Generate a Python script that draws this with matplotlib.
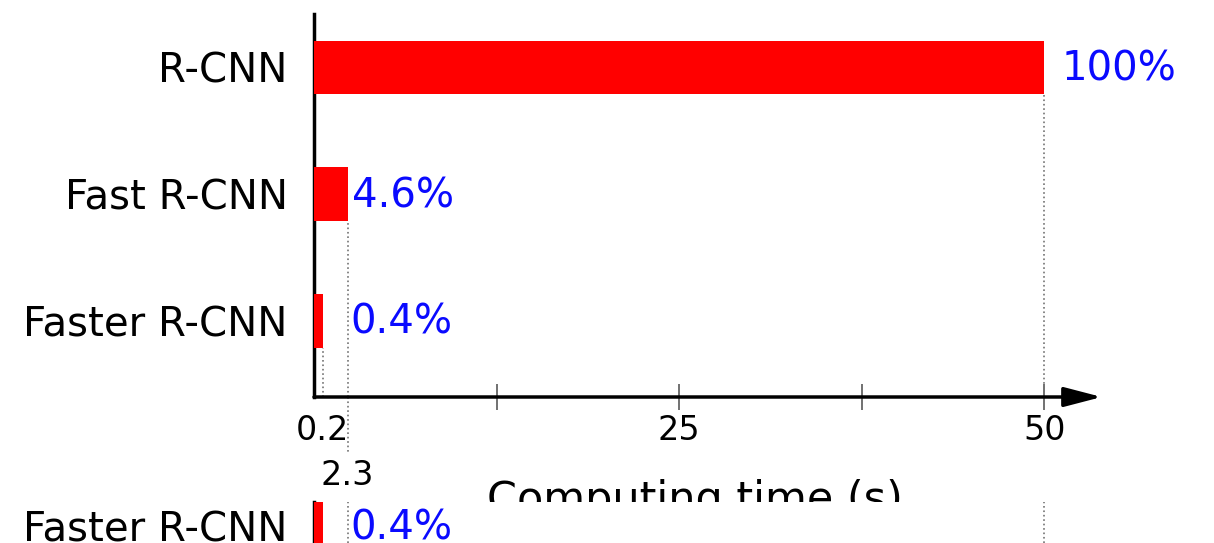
import matplotlib.pyplot as plt
import matplotlib.transforms as mtransforms

# values (bottom row is drawn a bit wider than 0.2 in the picture)
models = ['R-CNN', 'Fast R-CNN', 'Faster R-CNN']
bar_len = [50, 2.3, 0.6]
shares = ['100%', '4.6%', '0.4%']
rows = [2, 1, 0]
share_pad = [12, 3, 2]          # points right of the guide line
major_ticks = [12.5, 25, 37.5, 50]
major_labels = ['', '25', '', '50']
minor_ticks = [0.6, 2.3]
minor_labels = ['0.2', '2.3']

RED = '#ff0000'
BLUE = '#0a0aff'
W, H = 1214, 543
XMAX = 53.6
YLIM = (-0.6, 2.42)
BAR_H = 0.42
FS = 29

fig = plt.figure(figsize=(W / 100, H / 100), dpi=100)
left, right = 314 / W, 1097 / W
ax = fig.add_axes([left, (H - 397) / H, right - left, 383 / H])

ax.barh(rows, bar_len, height=BAR_H, color=RED, zorder=3)
ax.set_xlim(0, XMAX)
ax.set_ylim(*YLIM)
ax.set_yticks(rows)
ax.set_yticklabels(models, fontsize=FS)
ax.tick_params(axis='y', length=0, pad=19)

for sp in ['top', 'right', 'bottom']:
	ax.spines[sp].set_visible(False)
ax.spines['left'].set_linewidth(2.5)

# dotted guides from each bar down to the axis
for y, t in zip(rows, bar_len):
	ax.vlines(t, YLIM[0], y - BAR_H / 2, colors='0.45', linestyles=':', lw=1.2, zorder=2)
trans = mtransforms.blended_transform_factory(ax.transData, ax.transAxes)
ax.plot([bar_len[1], bar_len[1]], [0, -0.15], ':', color='0.45', lw=1.2,
	transform=trans, clip_on=False)

# percent labels
for y, t, s, p in zip(rows, bar_len, shares, share_pad):
	ax.annotate(s, (max(t, bar_len[1]), y), xytext=(p, -1.5), textcoords='offset points',
		va='center', ha='left', color=BLUE, fontsize=FS)

# x axis with arrow
ax.annotate('', xy=(1.006, 0), xytext=(0, 0), xycoords='axes fraction',
	arrowprops=dict(arrowstyle='-|>,head_length=1.15,head_width=0.3', lw=2.5,
		color='black', mutation_scale=20, shrinkA=0, shrinkB=0))
ax.set_xticks(major_ticks)
ax.set_xticklabels(major_labels, fontsize=24)
ax.tick_params(axis='x', which='major', direction='inout', length=19, width=1.2,
	color='0.35', pad=3)
ax.set_xticks(minor_ticks, minor=True)
ax.set_xticklabels(minor_labels, minor=True, fontsize=24)
ax.tick_params(axis='x', which='minor', length=0, pad=12.5)
lab = ax.xaxis.get_minorticklabels()[1]
lab.set_transform(lab.get_transform() + mtransforms.ScaledTranslation(0, -0.45, fig.dpi_scale_trans))

ax.set_xlabel('Computing time (s)', fontsize=31, va='top')
ax.xaxis.set_label_coords(0.487, -0.215)

# repeated strip of the bottom row, covering the axis title
ax2 = fig.add_axes([left, 0, right - left, 41 / H], zorder=5)
ax2.set_facecolor('white')
ax2.barh([rows[2]], [bar_len[2]], height=BAR_H, color=RED, zorder=3)
ax2.set_xlim(0, XMAX)
ax2.set_ylim(-0.134, 0.189)
ax2.set_yticks([rows[2]])
ax2.set_yticklabels([models[2]], fontsize=FS)
ax2.tick_params(axis='y', length=0, pad=19)
ax2.set_xticks([])
for sp in ['top', 'right', 'bottom']:
	ax2.spines[sp].set_visible(False)
ax2.spines['left'].set_linewidth(2.5)
for t in bar_len[:2]:
	ax2.axvline(t, color='0.45', ls=':', lw=1.2, zorder=2)
ax2.annotate(shares[2], (bar_len[1], rows[2]), xytext=(share_pad[2], -1.5),
	textcoords='offset points', va='center', ha='left', color=BLUE, fontsize=FS)

fig.savefig('out.png', dpi=100)
